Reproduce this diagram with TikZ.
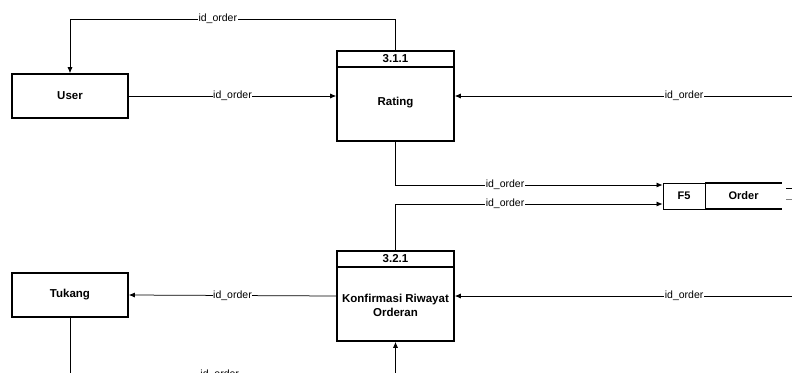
\documentclass[tikz,border=0pt]{standalone}
\usepackage{fontspec}
\setmainfont{Liberation Sans}
\usetikzlibrary{arrows.meta,calc}

\begin{document}
\begin{tikzpicture}[x=1pt,y=-1pt,
  entity/.style={draw,line width=1.6pt,minimum width=116pt,minimum height=44pt,font=\bfseries\fontsize{11.5}{13}\selectfont},
  proc/.style={draw,line width=1.6pt,minimum width=117pt,minimum height=90pt},
  ptext/.style={align=center,inner sep=1pt,font=\bfseries\fontsize{11.5}{14}\selectfont},
  flow/.style={line width=0.75pt,-{Latex[length=6pt,width=5pt]}},
  lbl/.style={fill=white,inner sep=0.6pt,font=\fontsize{10.5}{12}\selectfont}]

\clip (0,0) rectangle (792,372);

\node[entity] (user) at (70,96) {User};
\node[entity] (tukang) at (70,295) {Tukang};

\node[proc] (p311) at (395.5,96) {};
\draw[line width=1.6pt] ($(p311.north west)+(0,17)$) -- ($(p311.north east)+(0,17)$);
\node[ptext] (p311id) at ($(p311.north)+(0,8.5)$) {3.1.1};
\node[ptext] (p311nm) at ($(p311.center)+(0,7)$) {Rating};

\node[proc] (p321) at (395.5,296) {};
\draw[line width=1.6pt] ($(p321.north west)+(0,17)$) -- ($(p321.north east)+(0,17)$);
\node[ptext] (p321id) at ($(p321.north)+(0,8.5)$) {3.2.1};
\node[ptext] (p321nm) at ($(p321.center)+(0,9)$) {Konfirmasi Riwayat\\Orderan};

\node[draw,line width=0.8pt,minimum width=42pt,minimum height=26pt,font=\bfseries\fontsize{11}{13}\selectfont] (f5) at (684,196) {F5};
\node[minimum width=76pt,minimum height=26pt,anchor=west,font=\bfseries\fontsize{11}{13}\selectfont] (order) at (f5.east) {Order};
\draw[line width=1.6pt] (order.south west) -- (order.north west) -- (order.north east);
\draw[line width=1.6pt] (order.south west) -- (order.south east);

\coordinate (r1) at (792,96);
\coordinate (r2) at (792,296);
\coordinate (o1a) at (786,188);
\coordinate (o1b) at (792,188);
\coordinate (o2a) at (786,199);
\coordinate (o2b) at (792,199);

\draw[flow] (p311.north) -- ($(p311.north)+(0,-31)$) -| node[lbl,pos=0.273]{id\_order} (user.north);
\draw[flow] (user.east) -- node[lbl]{id\_order} (p311.west);
\draw[flow] (r1) -- node[lbl,pos=0.32]{id\_order} (p311.east);
\draw[flow] (p311.south) |- node[lbl,pos=0.705]{id\_order} ($(f5.west)+(0,-11)$);
\draw[flow] (p321.north) |- node[lbl,pos=0.705]{id\_order} ($(f5.west)+(0,8)$);
\draw[flow] (p321.west) -- node[lbl]{id\_order} (tukang.east);
\draw[flow] (r2) -- node[lbl,pos=0.32]{id\_order} (p321.east);
\draw[flow] (tukang.south) |- node[lbl,pos=0.73]{id\_order} ($(p321.south)+(0,33)$) -- (p321.south);
\draw[line width=0.7pt] (o1a) -- (o1b);
\draw[line width=0.7pt,gray] (o2a) -- (o2b);

\end{tikzpicture}
\end{document}
